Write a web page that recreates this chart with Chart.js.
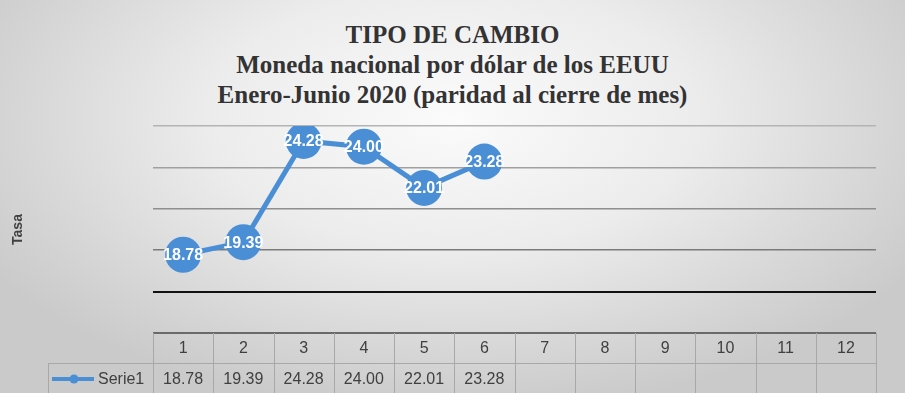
<!DOCTYPE html>
<html>
<head>
<meta charset="utf-8">
<script src="https://cdn.jsdelivr.net/npm/chart.js@4/dist/chart.umd.min.js"></script>
<style>
  body { margin: 0; }
  #wrap {
    position: relative; width: 905px; height: 393px; overflow: hidden;
    background: radial-gradient(ellipse 60% 75% at 50% 30%, #fbfbfb 0%, #ececec 45%, #d6d6d6 80%, #cacaca 100%);
  }
  #title {
    position: absolute; left: 0; top: 20px; width: 905px; text-align: center;
    font: bold 25px "Liberation Serif", "Times New Roman", serif; line-height: 30px; color: #333;
  }
  canvas { position: absolute; left: 0; top: 0; }
</style>
</head>
<body>
<div id="wrap">
  <div id="title">TIPO DE CAMBIO<br>Moneda nacional por dólar de los EEUU<br>Enero-Junio 2020 (paridad al cierre de mes)</div>
  <canvas id="chart" width="905" height="393"></canvas>
</div>
<script>
// ── datos ────────────────────────────────────────────────
const meses = ['1', '2', '3', '4', '5', '6', '7', '8', '9', '10', '11', '12'];
const serie1 = [18.78, 19.39, 24.28, 24.00, 22.01, 23.28];
const serieNombre = 'Serie1';
const ejeY = { min: 15, max: 25, step: 2 };

const AZUL = '#4a8fd6';
const TEXTO = '#404040';

// color de cada línea de la grilla (la de 17 es el eje negro)
function gridColor(v) {
  if (v === 17) return '#111';
  if (v === 15) return '#6a6a6a';
  if (v === 19) return '#7a7a7a';
  if (v === 21) return '#8e8e8e';
  if (v === 23) return '#a0a0a0';
  return '#b4b4b4';
}

// etiquetas blancas dentro de los marcadores
const dataLabels = {
  id: 'dataLabels',
  afterDatasetsDraw(chart) {
    const ctx = chart.ctx;
    const meta = chart.getDatasetMeta(0);
    ctx.save();
    ctx.font = 'bold 16px "Liberation Sans", Arial, sans-serif';
    ctx.fillStyle = '#fff';
    ctx.textAlign = 'center';
    ctx.textBaseline = 'middle';
    meta.data.forEach((pt, i) => {
      ctx.fillText(serie1[i].toFixed(2), pt.x, pt.y + 1);
    });
    ctx.restore();
  }
};

// tabla de datos bajo el gráfico
const dataTable = {
  id: 'dataTable',
  afterDraw(chart) {
    const ctx = chart.ctx;
    const xs = chart.scales.x;
    const area = chart.chartArea;
    const w = xs.getPixelForValue(1) - xs.getPixelForValue(0);
    const top = area.bottom, mid = top + 30, bot = top + 62;
    const legLeft = 48;

    ctx.save();
    ctx.strokeStyle = '#a8a8a8';
    ctx.lineWidth = 1;
    ctx.beginPath();
    for (let i = 0; i <= meses.length; i++) {
      const x = Math.round(area.left + i * w) + 0.5;
      ctx.moveTo(x, top);
      ctx.lineTo(x, bot);
    }
    ctx.moveTo(legLeft + 0.5, mid);
    ctx.lineTo(legLeft + 0.5, bot);
    ctx.moveTo(legLeft, mid + 0.5);
    ctx.lineTo(area.right, mid + 0.5);
    ctx.stroke();

    ctx.font = '16px "Liberation Sans", Arial, sans-serif';
    ctx.fillStyle = TEXTO;
    ctx.textAlign = 'center';
    ctx.textBaseline = 'middle';
    meses.forEach((m, i) => {
      const cx = xs.getPixelForValue(i);
      ctx.fillText(m, cx, top + 16);
      if (serie1[i] !== undefined) ctx.fillText(serie1[i].toFixed(2), cx, mid + 17);
    });

    // leyenda
    ctx.strokeStyle = AZUL;
    ctx.lineWidth = 4;
    ctx.beginPath();
    ctx.moveTo(52, mid + 16);
    ctx.lineTo(94, mid + 16);
    ctx.stroke();
    ctx.fillStyle = AZUL;
    ctx.beginPath();
    ctx.arc(74, mid + 16, 4.5, 0, Math.PI * 2);
    ctx.fill();
    ctx.fillStyle = TEXTO;
    ctx.textAlign = 'left';
    ctx.fillText(serieNombre, 98, mid + 17);
    ctx.restore();
  }
};

new Chart(document.getElementById('chart'), {
  type: 'line',
  data: {
    labels: meses,
    datasets: [{
      label: serieNombre,
      data: serie1,
      borderColor: AZUL,
      backgroundColor: AZUL,
      borderWidth: 5,
      pointRadius: 18,
      pointHoverRadius: 18,
      pointBorderWidth: 0,
      tension: 0,
    }]
  },
  options: {
    responsive: false,
    animation: false,
    events: [],
    layout: { padding: { left: 0, right: 29, top: 126, bottom: 60 } },
    plugins: {
      legend: { display: false },
      tooltip: { enabled: false },
    },
    scales: {
      x: {
        type: 'category',
        offset: true,
        display: false,
      },
      y: {
        min: ejeY.min,
        max: ejeY.max,
        ticks: { stepSize: ejeY.step, display: false },
        border: { display: false },
        grid: {
          drawTicks: false,
          color: c => gridColor(c.tick.value),
          lineWidth: c => (c.tick.value === 17 || c.tick.value === 15) ? 2 : 1.5,
        },
        title: {
          display: true,
          text: 'Tasa',
          color: TEXTO,
          font: { family: '"Liberation Sans", Arial, sans-serif', size: 14, weight: 'bold' },
          padding: { top: 10, bottom: 0 },
        },
        afterFit: s => { s.width = 153; },
      }
    }
  },
  plugins: [dataLabels, dataTable]
});
</script>
</body>
</html>
